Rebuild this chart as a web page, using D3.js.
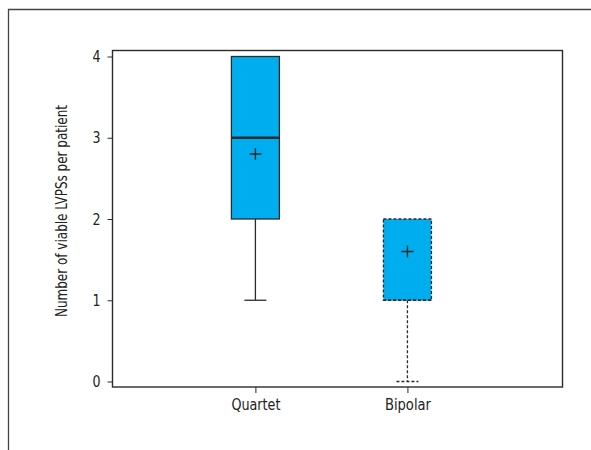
<!DOCTYPE html>
<html>
<head>
<meta charset="utf-8">
<script src="https://cdn.jsdelivr.net/npm/d3@7"></script>
<style>
  html, body { margin: 0; padding: 0; background: #fff; }
  svg { display: block; }
  text { font-family: "Liberation Sans Narrow", "DejaVu Sans Condensed", "Roboto Condensed", sans-serif; fill: #222; }
</style>
</head>
<body>
<svg id="chart" width="591" height="450"></svg>
<script>
// Box-plot summary per lead type
const categories = ["Quartet", "Bipolar"];
const whiskerLow = [1, 0];
const q1 = [2, 1];
const medians = [3, 1];
const q3 = [4, 2];
const whiskerHigh = [4, 2];
const means = [2.8, 1.6];
const yTicks = [0, 1, 2, 3, 4];
const yTitle = "Number of viable LVPSs per patient";

const svg = d3.select("#chart");
const fillColor = "#00aeef";
const ink = "#2b2b2b";

// Outer panel border (left and top edges)
svg.append("path")
  .attr("d", "M8.5,450 V9.5 H591")
  .attr("fill", "none")
  .attr("stroke", "#444")
  .attr("stroke-width", 1.3);

const plotL = 112.5, plotR = 562.5, plotT = 50.5, plotB = 387;
const x = d3.scaleLinear().domain([0.06, 3.02]).range([plotL, plotR]);
const y = d3.scaleLinear().domain([0, 4]).range([381.5, 56.5]);

// Plot frame
svg.append("rect")
  .attr("x", plotL).attr("y", plotT)
  .attr("width", plotR - plotL).attr("height", plotB - plotT)
  .attr("fill", "none").attr("stroke", ink).attr("stroke-width", 1.4);

// Y axis ticks and labels
const yAxis = d3.axisLeft(y).tickValues(yTicks).tickSize(5).tickPadding(7).tickFormat(d3.format("d"));
const gy = svg.append("g").attr("transform", `translate(${plotL},0)`).call(yAxis);
gy.select(".domain").remove();
gy.selectAll("line").attr("stroke", ink);
gy.selectAll("text").style("font-size", "16px").attr("fill", "#222")
  .attr("textLength", 8).attr("lengthAdjust", "spacingAndGlyphs");

// X axis ticks and category labels (condensed to the narrow face width)
const labelWidths = [49, 46];
const xAxis = d3.axisBottom(x).tickValues([1, 2]).tickSize(6).tickPadding(6)
  .tickFormat(d => categories[d - 1]);
const gx = svg.append("g").attr("transform", `translate(0,${plotB})`).call(xAxis);
gx.select(".domain").remove();
gx.selectAll("line").attr("stroke", ink);
gx.selectAll("text").style("font-size", "16px").attr("fill", "#222")
  .attr("textLength", (d, i) => labelWidths[i]).attr("lengthAdjust", "spacingAndGlyphs");

// Y axis title
svg.append("text")
  .attr("transform", `translate(67,${(105 + 317) / 2}) rotate(-90)`)
  .attr("text-anchor", "middle")
  .style("font-size", "15px")
  .attr("textLength", 212).attr("lengthAdjust", "spacingAndGlyphs")
  .text(yTitle);

const boxW = 48, capW = 22, plus = 6;
categories.forEach((c, i) => {
  const cx = x(i + 1);
  const dash = i === 1 ? "3,2" : null;
  const g = svg.append("g");
  // whisker below the box
  g.append("line")
    .attr("x1", cx).attr("x2", cx)
    .attr("y1", y(q1[i])).attr("y2", y(whiskerLow[i]))
    .attr("stroke", ink).attr("stroke-width", 1.3).attr("stroke-dasharray", dash);
  g.append("line")
    .attr("x1", cx - capW / 2).attr("x2", cx + capW / 2)
    .attr("y1", y(whiskerLow[i])).attr("y2", y(whiskerLow[i]))
    .attr("stroke", ink).attr("stroke-width", 1.3).attr("stroke-dasharray", dash);
  // whisker above the box
  if (whiskerHigh[i] > q3[i]) {
    g.append("line")
      .attr("x1", cx).attr("x2", cx)
      .attr("y1", y(q3[i])).attr("y2", y(whiskerHigh[i]))
      .attr("stroke", ink).attr("stroke-width", 1.3).attr("stroke-dasharray", dash);
  }
  // interquartile box
  g.append("rect")
    .attr("x", cx - boxW / 2).attr("y", y(q3[i]))
    .attr("width", boxW).attr("height", y(q1[i]) - y(q3[i]))
    .attr("fill", fillColor).attr("stroke", ink).attr("stroke-width", 1.3)
    .attr("stroke-dasharray", dash);
  // median
  g.append("line")
    .attr("x1", cx - boxW / 2).attr("x2", cx + boxW / 2)
    .attr("y1", y(medians[i])).attr("y2", y(medians[i]))
    .attr("stroke", ink).attr("stroke-width", i === 0 ? 2.6 : 1.3)
    .attr("stroke-dasharray", dash);
  // mean marker
  const my = y(means[i]);
  g.append("path")
    .attr("d", `M${cx - plus},${my} H${cx + plus} M${cx},${my - plus} V${my + plus}`)
    .attr("stroke", ink).attr("stroke-width", 1.4).attr("fill", "none");
});
</script>
</body>
</html>
